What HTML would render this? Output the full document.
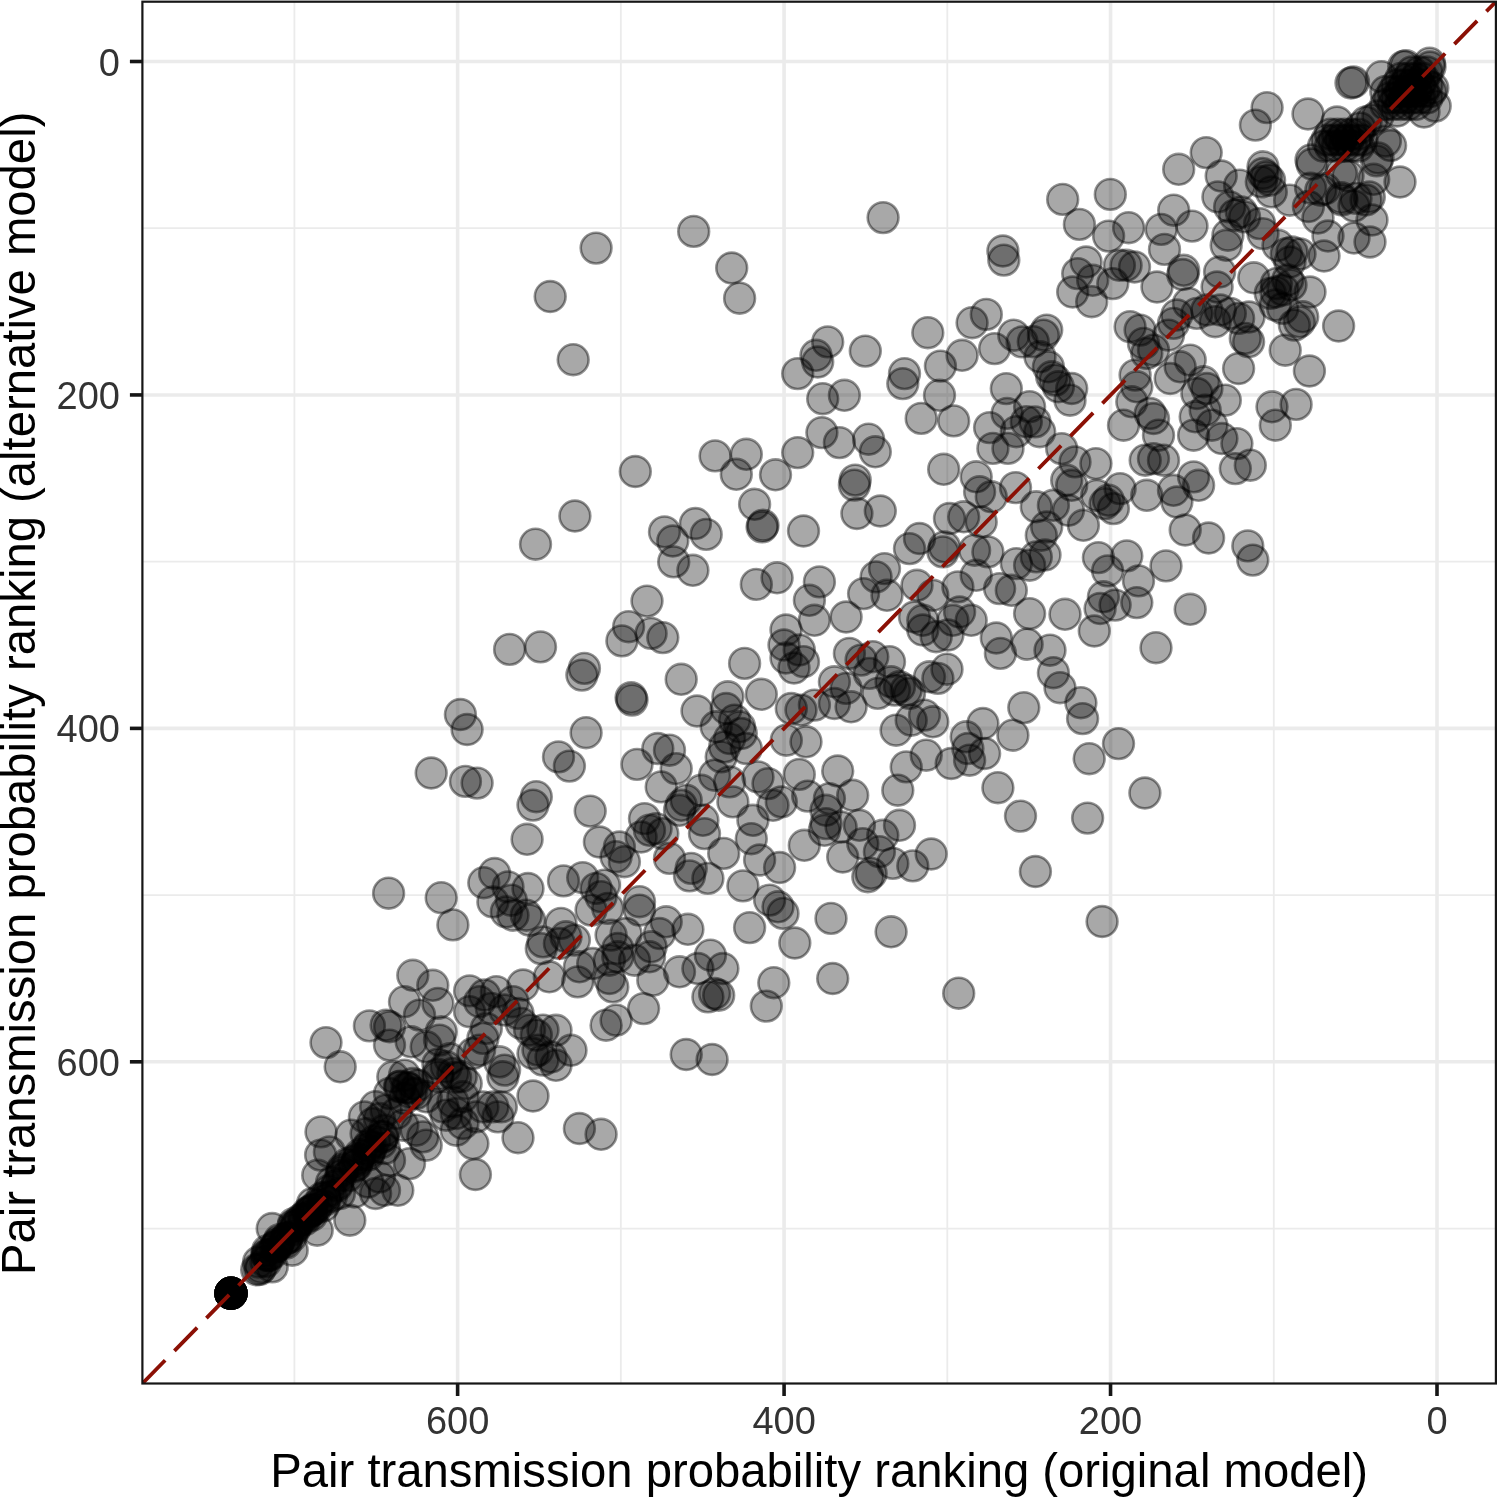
<!DOCTYPE html>
<html><head><meta charset="utf-8"><style>
html,body{margin:0;padding:0;background:#fff;}
svg{display:block;will-change:transform;}
text{font-family:"Liberation Sans",sans-serif;}
</style></head><body>
<svg width="1498" height="1498" viewBox="0 0 1498 1498">
<rect x="0" y="0" width="1498" height="1498" fill="#fff"/>
<defs><clipPath id="pc"><rect x="142.4" y="1.7" width="1353.5" height="1381.8"/></clipPath></defs>
<g><line x1="1273.77" y1="1.7" x2="1273.77" y2="1383.5" stroke="#EBEBEB" stroke-width="1.8"/><line x1="142.4" y1="228.22" x2="1495.9" y2="228.22" stroke="#EBEBEB" stroke-width="1.8"/><line x1="947.31" y1="1.7" x2="947.31" y2="1383.5" stroke="#EBEBEB" stroke-width="1.8"/><line x1="142.4" y1="561.66" x2="1495.9" y2="561.66" stroke="#EBEBEB" stroke-width="1.8"/><line x1="620.85" y1="1.7" x2="620.85" y2="1383.5" stroke="#EBEBEB" stroke-width="1.8"/><line x1="142.4" y1="895.10" x2="1495.9" y2="895.10" stroke="#EBEBEB" stroke-width="1.8"/><line x1="294.39" y1="1.7" x2="294.39" y2="1383.5" stroke="#EBEBEB" stroke-width="1.8"/><line x1="142.4" y1="1228.54" x2="1495.9" y2="1228.54" stroke="#EBEBEB" stroke-width="1.8"/><line x1="1437.00" y1="1.7" x2="1437.00" y2="1383.5" stroke="#EBEBEB" stroke-width="3.6"/><line x1="142.4" y1="61.50" x2="1495.9" y2="61.50" stroke="#EBEBEB" stroke-width="3.6"/><line x1="1110.54" y1="1.7" x2="1110.54" y2="1383.5" stroke="#EBEBEB" stroke-width="3.6"/><line x1="142.4" y1="394.94" x2="1495.9" y2="394.94" stroke="#EBEBEB" stroke-width="3.6"/><line x1="784.08" y1="1.7" x2="784.08" y2="1383.5" stroke="#EBEBEB" stroke-width="3.6"/><line x1="142.4" y1="728.38" x2="1495.9" y2="728.38" stroke="#EBEBEB" stroke-width="3.6"/><line x1="457.62" y1="1.7" x2="457.62" y2="1383.5" stroke="#EBEBEB" stroke-width="3.6"/><line x1="142.4" y1="1061.82" x2="1495.9" y2="1061.82" stroke="#EBEBEB" stroke-width="3.6"/></g>
<g clip-path="url(#pc)" fill="rgba(0,0,0,0.34)" stroke="rgba(0,0,0,0.42)" stroke-width="2.6">
<circle cx="1412.0" cy="72.0" r="15.4"/>
<circle cx="1419.5" cy="72.0" r="15.4"/>
<circle cx="1427.0" cy="72.0" r="15.4"/>
<circle cx="1400.8" cy="78.5" r="15.4"/>
<circle cx="1408.2" cy="78.5" r="15.4"/>
<circle cx="1415.8" cy="78.5" r="15.4"/>
<circle cx="1423.2" cy="78.5" r="15.4"/>
<circle cx="1397.0" cy="85.0" r="15.4"/>
<circle cx="1404.5" cy="85.0" r="15.4"/>
<circle cx="1412.0" cy="85.0" r="15.4"/>
<circle cx="1419.5" cy="85.0" r="15.4"/>
<circle cx="1427.0" cy="85.0" r="15.4"/>
<circle cx="1385.8" cy="91.5" r="15.4"/>
<circle cx="1393.2" cy="91.5" r="15.4"/>
<circle cx="1400.8" cy="91.5" r="15.4"/>
<circle cx="1408.2" cy="91.5" r="15.4"/>
<circle cx="1415.8" cy="91.5" r="15.4"/>
<circle cx="1423.2" cy="91.5" r="15.4"/>
<circle cx="1430.8" cy="91.5" r="15.4"/>
<circle cx="1389.5" cy="98.0" r="15.4"/>
<circle cx="1397.0" cy="98.0" r="15.4"/>
<circle cx="1404.5" cy="98.0" r="15.4"/>
<circle cx="1412.0" cy="98.0" r="15.4"/>
<circle cx="1419.5" cy="98.0" r="15.4"/>
<circle cx="1427.0" cy="98.0" r="15.4"/>
<circle cx="1385.8" cy="104.5" r="15.4"/>
<circle cx="1393.2" cy="104.5" r="15.4"/>
<circle cx="1400.8" cy="104.5" r="15.4"/>
<circle cx="1408.2" cy="104.5" r="15.4"/>
<circle cx="1415.8" cy="104.5" r="15.4"/>
<circle cx="1397.0" cy="111.0" r="15.4"/>
<circle cx="1429.5" cy="63.2" r="15.4"/>
<circle cx="1406.0" cy="65.8" r="15.4"/>
<circle cx="1403.7" cy="66.4" r="15.4"/>
<circle cx="1381.4" cy="76.7" r="15.4"/>
<circle cx="1430.0" cy="67.0" r="15.4"/>
<circle cx="1432.8" cy="88.0" r="15.4"/>
<circle cx="1435.2" cy="106.1" r="15.4"/>
<circle cx="1424.0" cy="112.0" r="15.4"/>
<circle cx="1351.0" cy="83.0" r="15.4"/>
<circle cx="1353.5" cy="82.0" r="15.4"/>
<circle cx="1308.0" cy="114.0" r="15.4"/>
<circle cx="1337.0" cy="122.0" r="15.4"/>
<circle cx="1330.5" cy="134.1" r="15.4"/>
<circle cx="1337.5" cy="134.1" r="15.4"/>
<circle cx="1344.5" cy="134.1" r="15.4"/>
<circle cx="1351.5" cy="134.1" r="15.4"/>
<circle cx="1358.5" cy="134.1" r="15.4"/>
<circle cx="1327.0" cy="140.1" r="15.4"/>
<circle cx="1334.0" cy="140.1" r="15.4"/>
<circle cx="1341.0" cy="140.1" r="15.4"/>
<circle cx="1348.0" cy="140.1" r="15.4"/>
<circle cx="1355.0" cy="140.1" r="15.4"/>
<circle cx="1362.0" cy="140.1" r="15.4"/>
<circle cx="1323.5" cy="146.2" r="15.4"/>
<circle cx="1330.5" cy="146.2" r="15.4"/>
<circle cx="1337.5" cy="146.2" r="15.4"/>
<circle cx="1344.5" cy="146.2" r="15.4"/>
<circle cx="1351.5" cy="146.2" r="15.4"/>
<circle cx="1358.5" cy="146.2" r="15.4"/>
<circle cx="1311.0" cy="160.0" r="15.4"/>
<circle cx="1312.0" cy="164.0" r="15.4"/>
<circle cx="1373.7" cy="179.3" r="15.4"/>
<circle cx="1400.0" cy="182.0" r="15.4"/>
<circle cx="1385.4" cy="141.1" r="15.4"/>
<circle cx="1390.6" cy="145.5" r="15.4"/>
<circle cx="1376.6" cy="160.9" r="15.4"/>
<circle cx="1378.0" cy="158.0" r="15.4"/>
<circle cx="1341.4" cy="173.4" r="15.4"/>
<circle cx="1348.0" cy="176.0" r="15.4"/>
<circle cx="1310.6" cy="188.1" r="15.4"/>
<circle cx="1320.8" cy="190.3" r="15.4"/>
<circle cx="1325.0" cy="188.8" r="15.4"/>
<circle cx="1341.4" cy="197.6" r="15.4"/>
<circle cx="1356.0" cy="198.4" r="15.4"/>
<circle cx="1369.3" cy="196.9" r="15.4"/>
<circle cx="1308.4" cy="206.5" r="15.4"/>
<circle cx="1366.0" cy="200.0" r="15.4"/>
<circle cx="1354.0" cy="206.0" r="15.4"/>
<circle cx="1342.0" cy="200.0" r="15.4"/>
<circle cx="1318.0" cy="218.0" r="15.4"/>
<circle cx="1372.0" cy="220.0" r="15.4"/>
<circle cx="1370.0" cy="242.0" r="15.4"/>
<circle cx="1354.0" cy="238.0" r="15.4"/>
<circle cx="1328.0" cy="236.0" r="15.4"/>
<circle cx="1324.0" cy="256.0" r="15.4"/>
<circle cx="1300.0" cy="254.0" r="15.4"/>
<circle cx="1310.0" cy="292.0" r="15.4"/>
<circle cx="1267.1" cy="107.6" r="15.4"/>
<circle cx="1255.4" cy="125.1" r="15.4"/>
<circle cx="1206.2" cy="152.6" r="15.4"/>
<circle cx="1178.7" cy="169.3" r="15.4"/>
<circle cx="1221.2" cy="176.0" r="15.4"/>
<circle cx="1263.0" cy="166.8" r="15.4"/>
<circle cx="1266.3" cy="176.8" r="15.4"/>
<circle cx="1261.3" cy="181.8" r="15.4"/>
<circle cx="1269.6" cy="180.2" r="15.4"/>
<circle cx="1263.0" cy="173.5" r="15.4"/>
<circle cx="1239.6" cy="185.2" r="15.4"/>
<circle cx="1217.9" cy="196.9" r="15.4"/>
<circle cx="1289.7" cy="200.2" r="15.4"/>
<circle cx="1271.3" cy="191.9" r="15.4"/>
<circle cx="1229.6" cy="206.9" r="15.4"/>
<circle cx="1241.3" cy="211.9" r="15.4"/>
<circle cx="1234.6" cy="215.2" r="15.4"/>
<circle cx="1244.6" cy="216.9" r="15.4"/>
<circle cx="1259.6" cy="223.6" r="15.4"/>
<circle cx="1263.0" cy="233.6" r="15.4"/>
<circle cx="1227.9" cy="235.2" r="15.4"/>
<circle cx="1226.2" cy="245.3" r="15.4"/>
<circle cx="1062.7" cy="199.4" r="15.4"/>
<circle cx="1110.3" cy="194.4" r="15.4"/>
<circle cx="1079.4" cy="224.4" r="15.4"/>
<circle cx="1108.6" cy="236.1" r="15.4"/>
<circle cx="1128.6" cy="227.7" r="15.4"/>
<circle cx="1161.2" cy="229.4" r="15.4"/>
<circle cx="1173.7" cy="210.2" r="15.4"/>
<circle cx="1192.0" cy="226.1" r="15.4"/>
<circle cx="1164.5" cy="249.4" r="15.4"/>
<circle cx="1086.1" cy="262.0" r="15.4"/>
<circle cx="1077.7" cy="273.6" r="15.4"/>
<circle cx="1092.7" cy="280.3" r="15.4"/>
<circle cx="1072.7" cy="292.0" r="15.4"/>
<circle cx="1119.4" cy="265.3" r="15.4"/>
<circle cx="1126.1" cy="265.3" r="15.4"/>
<circle cx="1134.5" cy="267.0" r="15.4"/>
<circle cx="1112.8" cy="283.6" r="15.4"/>
<circle cx="1183.7" cy="270.3" r="15.4"/>
<circle cx="1182.8" cy="274.5" r="15.4"/>
<circle cx="1157.0" cy="287.0" r="15.4"/>
<circle cx="1219.6" cy="272.0" r="15.4"/>
<circle cx="1217.1" cy="287.0" r="15.4"/>
<circle cx="1253.8" cy="277.8" r="15.4"/>
<circle cx="1276.3" cy="283.6" r="15.4"/>
<circle cx="1286.3" cy="253.6" r="15.4"/>
<circle cx="1278.0" cy="245.3" r="15.4"/>
<circle cx="883.1" cy="217.6" r="15.4"/>
<circle cx="1002.9" cy="251.0" r="15.4"/>
<circle cx="1003.8" cy="260.1" r="15.4"/>
<circle cx="986.3" cy="314.4" r="15.4"/>
<circle cx="972.1" cy="322.7" r="15.4"/>
<circle cx="927.8" cy="332.7" r="15.4"/>
<circle cx="1013.8" cy="335.2" r="15.4"/>
<circle cx="1022.1" cy="341.9" r="15.4"/>
<circle cx="994.6" cy="348.6" r="15.4"/>
<circle cx="962.1" cy="355.3" r="15.4"/>
<circle cx="940.4" cy="366.1" r="15.4"/>
<circle cx="827.7" cy="341.9" r="15.4"/>
<circle cx="816.0" cy="355.3" r="15.4"/>
<circle cx="817.7" cy="362.0" r="15.4"/>
<circle cx="865.3" cy="351.1" r="15.4"/>
<circle cx="797.7" cy="373.6" r="15.4"/>
<circle cx="904.5" cy="373.6" r="15.4"/>
<circle cx="902.8" cy="383.6" r="15.4"/>
<circle cx="939.5" cy="395.3" r="15.4"/>
<circle cx="1006.3" cy="388.6" r="15.4"/>
<circle cx="844.4" cy="395.3" r="15.4"/>
<circle cx="822.7" cy="398.7" r="15.4"/>
<circle cx="1091.7" cy="301.7" r="15.4"/>
<circle cx="1046.7" cy="330.1" r="15.4"/>
<circle cx="1043.4" cy="335.1" r="15.4"/>
<circle cx="1033.3" cy="341.7" r="15.4"/>
<circle cx="1040.0" cy="356.8" r="15.4"/>
<circle cx="1048.4" cy="366.8" r="15.4"/>
<circle cx="1055.0" cy="380.1" r="15.4"/>
<circle cx="1051.7" cy="376.8" r="15.4"/>
<circle cx="1058.4" cy="386.8" r="15.4"/>
<circle cx="1071.7" cy="388.5" r="15.4"/>
<circle cx="1070.0" cy="400.2" r="15.4"/>
<circle cx="1035.0" cy="421.9" r="15.4"/>
<circle cx="1061.7" cy="448.6" r="15.4"/>
<circle cx="1075.0" cy="461.9" r="15.4"/>
<circle cx="1095.9" cy="463.6" r="15.4"/>
<circle cx="1066.7" cy="480.3" r="15.4"/>
<circle cx="1071.7" cy="485.3" r="15.4"/>
<circle cx="1053.4" cy="505.3" r="15.4"/>
<circle cx="1068.4" cy="510.3" r="15.4"/>
<circle cx="1083.4" cy="525.3" r="15.4"/>
<circle cx="1046.7" cy="527.0" r="15.4"/>
<circle cx="1096.8" cy="495.3" r="15.4"/>
<circle cx="1108.4" cy="500.3" r="15.4"/>
<circle cx="1120.1" cy="488.6" r="15.4"/>
<circle cx="1113.4" cy="508.6" r="15.4"/>
<circle cx="1105.1" cy="503.6" r="15.4"/>
<circle cx="1146.8" cy="495.3" r="15.4"/>
<circle cx="1173.5" cy="490.3" r="15.4"/>
<circle cx="1176.9" cy="502.0" r="15.4"/>
<circle cx="1193.6" cy="476.9" r="15.4"/>
<circle cx="1198.6" cy="485.3" r="15.4"/>
<circle cx="1185.2" cy="530.0" r="15.4"/>
<circle cx="1208.6" cy="538.0" r="15.4"/>
<circle cx="1130.1" cy="326.7" r="15.4"/>
<circle cx="1140.1" cy="330.1" r="15.4"/>
<circle cx="1143.5" cy="343.4" r="15.4"/>
<circle cx="1153.5" cy="350.1" r="15.4"/>
<circle cx="1146.8" cy="353.4" r="15.4"/>
<circle cx="1168.5" cy="335.1" r="15.4"/>
<circle cx="1173.5" cy="323.4" r="15.4"/>
<circle cx="1176.9" cy="315.0" r="15.4"/>
<circle cx="1188.5" cy="303.4" r="15.4"/>
<circle cx="1196.9" cy="313.4" r="15.4"/>
<circle cx="1206.9" cy="310.0" r="15.4"/>
<circle cx="1215.2" cy="321.7" r="15.4"/>
<circle cx="1220.3" cy="310.0" r="15.4"/>
<circle cx="1230.3" cy="313.4" r="15.4"/>
<circle cx="1238.6" cy="318.4" r="15.4"/>
<circle cx="1245.3" cy="338.4" r="15.4"/>
<circle cx="1248.6" cy="341.7" r="15.4"/>
<circle cx="1238.6" cy="368.5" r="15.4"/>
<circle cx="1270.3" cy="293.4" r="15.4"/>
<circle cx="1275.3" cy="305.0" r="15.4"/>
<circle cx="1190.2" cy="360.1" r="15.4"/>
<circle cx="1180.2" cy="366.8" r="15.4"/>
<circle cx="1170.2" cy="378.5" r="15.4"/>
<circle cx="1135.1" cy="375.1" r="15.4"/>
<circle cx="1136.8" cy="386.8" r="15.4"/>
<circle cx="1131.8" cy="401.8" r="15.4"/>
<circle cx="1150.2" cy="413.5" r="15.4"/>
<circle cx="1153.5" cy="418.5" r="15.4"/>
<circle cx="1158.5" cy="435.2" r="15.4"/>
<circle cx="1123.5" cy="425.2" r="15.4"/>
<circle cx="1145.2" cy="460.2" r="15.4"/>
<circle cx="1153.5" cy="458.6" r="15.4"/>
<circle cx="1163.5" cy="460.2" r="15.4"/>
<circle cx="1203.6" cy="381.8" r="15.4"/>
<circle cx="1206.9" cy="388.5" r="15.4"/>
<circle cx="1196.9" cy="393.5" r="15.4"/>
<circle cx="1225.3" cy="400.2" r="15.4"/>
<circle cx="1205.2" cy="410.2" r="15.4"/>
<circle cx="1195.2" cy="416.8" r="15.4"/>
<circle cx="1193.6" cy="435.2" r="15.4"/>
<circle cx="1211.9" cy="425.2" r="15.4"/>
<circle cx="1221.9" cy="438.5" r="15.4"/>
<circle cx="1236.9" cy="443.6" r="15.4"/>
<circle cx="1235.3" cy="468.6" r="15.4"/>
<circle cx="1250.3" cy="465.2" r="15.4"/>
<circle cx="1287.7" cy="280.0" r="15.4"/>
<circle cx="1291.0" cy="285.0" r="15.4"/>
<circle cx="1282.7" cy="308.4" r="15.4"/>
<circle cx="1302.7" cy="316.8" r="15.4"/>
<circle cx="1299.4" cy="321.8" r="15.4"/>
<circle cx="1294.4" cy="325.1" r="15.4"/>
<circle cx="1338.6" cy="326.0" r="15.4"/>
<circle cx="1249.0" cy="317.0" r="15.4"/>
<circle cx="1285.2" cy="350.2" r="15.4"/>
<circle cx="1309.4" cy="371.0" r="15.4"/>
<circle cx="1272.0" cy="406.8" r="15.4"/>
<circle cx="1296.1" cy="404.4" r="15.4"/>
<circle cx="1275.3" cy="425.2" r="15.4"/>
<circle cx="1292.0" cy="252.0" r="15.4"/>
<circle cx="1290.0" cy="262.0" r="15.4"/>
<circle cx="1283.0" cy="290.0" r="15.4"/>
<circle cx="1276.0" cy="292.0" r="15.4"/>
<circle cx="821.9" cy="432.6" r="15.4"/>
<circle cx="839.4" cy="442.6" r="15.4"/>
<circle cx="868.6" cy="439.2" r="15.4"/>
<circle cx="875.3" cy="451.8" r="15.4"/>
<circle cx="797.7" cy="452.6" r="15.4"/>
<circle cx="921.2" cy="418.4" r="15.4"/>
<circle cx="953.7" cy="420.9" r="15.4"/>
<circle cx="989.6" cy="427.6" r="15.4"/>
<circle cx="1007.1" cy="413.4" r="15.4"/>
<circle cx="1029.6" cy="406.7" r="15.4"/>
<circle cx="1026.3" cy="421.7" r="15.4"/>
<circle cx="1016.3" cy="431.7" r="15.4"/>
<circle cx="992.9" cy="448.4" r="15.4"/>
<circle cx="1008.0" cy="448.4" r="15.4"/>
<circle cx="1039.7" cy="431.7" r="15.4"/>
<circle cx="943.7" cy="469.3" r="15.4"/>
<circle cx="855.2" cy="480.1" r="15.4"/>
<circle cx="854.4" cy="485.1" r="15.4"/>
<circle cx="976.2" cy="476.8" r="15.4"/>
<circle cx="979.6" cy="491.8" r="15.4"/>
<circle cx="991.3" cy="496.8" r="15.4"/>
<circle cx="1015.5" cy="487.6" r="15.4"/>
<circle cx="1036.3" cy="506.8" r="15.4"/>
<circle cx="856.9" cy="513.5" r="15.4"/>
<circle cx="880.3" cy="511.0" r="15.4"/>
<circle cx="803.5" cy="531.0" r="15.4"/>
<circle cx="949.5" cy="518.5" r="15.4"/>
<circle cx="963.7" cy="516.8" r="15.4"/>
<circle cx="981.2" cy="521.9" r="15.4"/>
<circle cx="919.5" cy="538.5" r="15.4"/>
<circle cx="909.5" cy="548.6" r="15.4"/>
<circle cx="944.5" cy="546.9" r="15.4"/>
<circle cx="942.9" cy="551.9" r="15.4"/>
<circle cx="974.6" cy="550.2" r="15.4"/>
<circle cx="987.9" cy="551.9" r="15.4"/>
<circle cx="1041.3" cy="535.2" r="15.4"/>
<circle cx="1016.3" cy="563.6" r="15.4"/>
<circle cx="1029.6" cy="565.2" r="15.4"/>
<circle cx="1036.3" cy="556.9" r="15.4"/>
<circle cx="976.2" cy="575.3" r="15.4"/>
<circle cx="957.9" cy="586.9" r="15.4"/>
<circle cx="999.6" cy="588.6" r="15.4"/>
<circle cx="1011.3" cy="590.3" r="15.4"/>
<circle cx="1029.6" cy="613.6" r="15.4"/>
<circle cx="884.5" cy="568.6" r="15.4"/>
<circle cx="876.1" cy="576.9" r="15.4"/>
<circle cx="863.6" cy="593.6" r="15.4"/>
<circle cx="887.0" cy="595.3" r="15.4"/>
<circle cx="917.0" cy="585.3" r="15.4"/>
<circle cx="932.8" cy="595.3" r="15.4"/>
<circle cx="819.4" cy="581.9" r="15.4"/>
<circle cx="809.4" cy="600.3" r="15.4"/>
<circle cx="814.4" cy="620.3" r="15.4"/>
<circle cx="846.1" cy="617.0" r="15.4"/>
<circle cx="914.5" cy="617.0" r="15.4"/>
<circle cx="922.8" cy="620.3" r="15.4"/>
<circle cx="959.6" cy="612.0" r="15.4"/>
<circle cx="971.2" cy="620.3" r="15.4"/>
<circle cx="952.9" cy="620.3" r="15.4"/>
<circle cx="996.3" cy="638.0" r="15.4"/>
<circle cx="596.1" cy="248.1" r="15.4"/>
<circle cx="693.7" cy="231.4" r="15.4"/>
<circle cx="731.7" cy="268.0" r="15.4"/>
<circle cx="739.6" cy="298.2" r="15.4"/>
<circle cx="550.2" cy="296.5" r="15.4"/>
<circle cx="573.2" cy="359.7" r="15.4"/>
<circle cx="635.3" cy="471.5" r="15.4"/>
<circle cx="574.9" cy="516.0" r="15.4"/>
<circle cx="715.1" cy="455.9" r="15.4"/>
<circle cx="746.3" cy="454.3" r="15.4"/>
<circle cx="736.3" cy="474.3" r="15.4"/>
<circle cx="775.5" cy="474.8" r="15.4"/>
<circle cx="754.6" cy="504.3" r="15.4"/>
<circle cx="763.0" cy="525.2" r="15.4"/>
<circle cx="762.1" cy="526.9" r="15.4"/>
<circle cx="664.5" cy="531.9" r="15.4"/>
<circle cx="672.8" cy="541.0" r="15.4"/>
<circle cx="695.4" cy="523.5" r="15.4"/>
<circle cx="706.2" cy="534.4" r="15.4"/>
<circle cx="673.7" cy="561.9" r="15.4"/>
<circle cx="692.9" cy="570.3" r="15.4"/>
<circle cx="756.3" cy="584.4" r="15.4"/>
<circle cx="777.1" cy="577.8" r="15.4"/>
<circle cx="647.0" cy="601.1" r="15.4"/>
<circle cx="628.6" cy="626.7" r="15.4"/>
<circle cx="621.9" cy="640.9" r="15.4"/>
<circle cx="651.1" cy="633.4" r="15.4"/>
<circle cx="662.8" cy="637.6" r="15.4"/>
<circle cx="584.4" cy="668.4" r="15.4"/>
<circle cx="581.9" cy="675.1" r="15.4"/>
<circle cx="631.1" cy="697.6" r="15.4"/>
<circle cx="632.0" cy="700.1" r="15.4"/>
<circle cx="681.2" cy="679.3" r="15.4"/>
<circle cx="744.6" cy="663.4" r="15.4"/>
<circle cx="761.3" cy="694.3" r="15.4"/>
<circle cx="727.9" cy="696.8" r="15.4"/>
<circle cx="726.2" cy="708.5" r="15.4"/>
<circle cx="697.0" cy="711.0" r="15.4"/>
<circle cx="716.2" cy="726.8" r="15.4"/>
<circle cx="734.6" cy="720.2" r="15.4"/>
<circle cx="739.6" cy="726.8" r="15.4"/>
<circle cx="741.3" cy="733.5" r="15.4"/>
<circle cx="729.6" cy="738.5" r="15.4"/>
<circle cx="724.6" cy="746.9" r="15.4"/>
<circle cx="721.2" cy="756.9" r="15.4"/>
<circle cx="746.3" cy="748.5" r="15.4"/>
<circle cx="786.0" cy="630.0" r="15.4"/>
<circle cx="784.0" cy="645.0" r="15.4"/>
<circle cx="786.0" cy="658.0" r="15.4"/>
<circle cx="794.0" cy="668.0" r="15.4"/>
<circle cx="791.3" cy="708.5" r="15.4"/>
<circle cx="786.3" cy="740.2" r="15.4"/>
<circle cx="586.1" cy="732.7" r="15.4"/>
<circle cx="558.5" cy="756.9" r="15.4"/>
<circle cx="569.4" cy="766.1" r="15.4"/>
<circle cx="657.8" cy="748.5" r="15.4"/>
<circle cx="669.5" cy="750.2" r="15.4"/>
<circle cx="637.0" cy="764.4" r="15.4"/>
<circle cx="676.2" cy="768.6" r="15.4"/>
<circle cx="661.2" cy="786.9" r="15.4"/>
<circle cx="714.6" cy="775.2" r="15.4"/>
<circle cx="729.6" cy="781.9" r="15.4"/>
<circle cx="701.2" cy="790.3" r="15.4"/>
<circle cx="758.0" cy="776.9" r="15.4"/>
<circle cx="768.0" cy="783.6" r="15.4"/>
<circle cx="732.9" cy="801.9" r="15.4"/>
<circle cx="773.0" cy="805.3" r="15.4"/>
<circle cx="781.3" cy="801.9" r="15.4"/>
<circle cx="752.9" cy="820.3" r="15.4"/>
<circle cx="751.3" cy="838.7" r="15.4"/>
<circle cx="681.2" cy="805.3" r="15.4"/>
<circle cx="679.5" cy="810.3" r="15.4"/>
<circle cx="686.2" cy="800.3" r="15.4"/>
<circle cx="702.9" cy="820.3" r="15.4"/>
<circle cx="704.5" cy="833.6" r="15.4"/>
<circle cx="644.5" cy="818.6" r="15.4"/>
<circle cx="656.1" cy="828.6" r="15.4"/>
<circle cx="649.5" cy="830.3" r="15.4"/>
<circle cx="662.8" cy="833.6" r="15.4"/>
<circle cx="641.1" cy="837.0" r="15.4"/>
<circle cx="619.4" cy="847.0" r="15.4"/>
<circle cx="590.2" cy="811.1" r="15.4"/>
<circle cx="599.4" cy="842.0" r="15.4"/>
<circle cx="1000.4" cy="653.4" r="15.4"/>
<circle cx="1027.1" cy="644.2" r="15.4"/>
<circle cx="922.8" cy="630.0" r="15.4"/>
<circle cx="936.2" cy="636.7" r="15.4"/>
<circle cx="947.9" cy="635.0" r="15.4"/>
<circle cx="849.4" cy="653.4" r="15.4"/>
<circle cx="861.1" cy="660.1" r="15.4"/>
<circle cx="872.8" cy="656.7" r="15.4"/>
<circle cx="889.5" cy="661.7" r="15.4"/>
<circle cx="803.5" cy="661.7" r="15.4"/>
<circle cx="799.3" cy="650.0" r="15.4"/>
<circle cx="834.4" cy="681.8" r="15.4"/>
<circle cx="846.1" cy="688.4" r="15.4"/>
<circle cx="869.4" cy="673.4" r="15.4"/>
<circle cx="877.8" cy="693.4" r="15.4"/>
<circle cx="891.1" cy="681.8" r="15.4"/>
<circle cx="899.5" cy="686.8" r="15.4"/>
<circle cx="906.2" cy="690.1" r="15.4"/>
<circle cx="909.5" cy="693.4" r="15.4"/>
<circle cx="894.5" cy="690.1" r="15.4"/>
<circle cx="929.5" cy="676.8" r="15.4"/>
<circle cx="937.9" cy="678.4" r="15.4"/>
<circle cx="947.0" cy="669.2" r="15.4"/>
<circle cx="814.4" cy="705.1" r="15.4"/>
<circle cx="834.4" cy="703.5" r="15.4"/>
<circle cx="851.1" cy="706.8" r="15.4"/>
<circle cx="801.0" cy="710.1" r="15.4"/>
<circle cx="896.1" cy="730.2" r="15.4"/>
<circle cx="911.2" cy="720.2" r="15.4"/>
<circle cx="924.5" cy="715.1" r="15.4"/>
<circle cx="932.8" cy="721.8" r="15.4"/>
<circle cx="806.0" cy="741.8" r="15.4"/>
<circle cx="982.9" cy="723.5" r="15.4"/>
<circle cx="1023.8" cy="707.6" r="15.4"/>
<circle cx="1012.9" cy="735.2" r="15.4"/>
<circle cx="966.2" cy="736.8" r="15.4"/>
<circle cx="967.9" cy="748.5" r="15.4"/>
<circle cx="984.6" cy="753.5" r="15.4"/>
<circle cx="969.6" cy="760.2" r="15.4"/>
<circle cx="951.2" cy="763.5" r="15.4"/>
<circle cx="926.2" cy="755.2" r="15.4"/>
<circle cx="906.2" cy="766.9" r="15.4"/>
<circle cx="897.8" cy="790.2" r="15.4"/>
<circle cx="997.9" cy="787.7" r="15.4"/>
<circle cx="1020.5" cy="816.1" r="15.4"/>
<circle cx="837.7" cy="771.0" r="15.4"/>
<circle cx="799.3" cy="774.4" r="15.4"/>
<circle cx="807.7" cy="796.1" r="15.4"/>
<circle cx="829.4" cy="798.6" r="15.4"/>
<circle cx="852.7" cy="795.3" r="15.4"/>
<circle cx="826.0" cy="810.3" r="15.4"/>
<circle cx="826.0" cy="823.6" r="15.4"/>
<circle cx="824.4" cy="830.3" r="15.4"/>
<circle cx="841.1" cy="827.0" r="15.4"/>
<circle cx="859.4" cy="825.3" r="15.4"/>
<circle cx="882.8" cy="835.3" r="15.4"/>
<circle cx="899.5" cy="825.3" r="15.4"/>
<circle cx="862.8" cy="843.6" r="15.4"/>
<circle cx="804.3" cy="845.3" r="15.4"/>
<circle cx="842.7" cy="857.0" r="15.4"/>
<circle cx="931.2" cy="854.0" r="15.4"/>
<circle cx="1247.8" cy="545.9" r="15.4"/>
<circle cx="1252.8" cy="560.1" r="15.4"/>
<circle cx="1045.0" cy="555.0" r="15.4"/>
<circle cx="1098.4" cy="557.6" r="15.4"/>
<circle cx="1107.6" cy="570.9" r="15.4"/>
<circle cx="1126.8" cy="555.9" r="15.4"/>
<circle cx="1166.0" cy="565.9" r="15.4"/>
<circle cx="1138.5" cy="580.9" r="15.4"/>
<circle cx="1103.4" cy="596.8" r="15.4"/>
<circle cx="1100.1" cy="608.5" r="15.4"/>
<circle cx="1115.1" cy="605.1" r="15.4"/>
<circle cx="1136.8" cy="602.6" r="15.4"/>
<circle cx="1190.2" cy="609.3" r="15.4"/>
<circle cx="1065.0" cy="614.3" r="15.4"/>
<circle cx="1094.3" cy="631.0" r="15.4"/>
<circle cx="1156.0" cy="647.7" r="15.4"/>
<circle cx="1050.0" cy="650.2" r="15.4"/>
<circle cx="1053.4" cy="672.7" r="15.4"/>
<circle cx="1060.0" cy="687.7" r="15.4"/>
<circle cx="1080.9" cy="702.7" r="15.4"/>
<circle cx="1082.6" cy="718.6" r="15.4"/>
<circle cx="1118.5" cy="743.6" r="15.4"/>
<circle cx="1089.2" cy="758.7" r="15.4"/>
<circle cx="1144.9" cy="793.0" r="15.4"/>
<circle cx="1087.6" cy="818.1" r="15.4"/>
<circle cx="1035.4" cy="871.5" r="15.4"/>
<circle cx="1102.1" cy="921.5" r="15.4"/>
<circle cx="867.8" cy="876.7" r="15.4"/>
<circle cx="871.1" cy="873.4" r="15.4"/>
<circle cx="892.8" cy="863.4" r="15.4"/>
<circle cx="912.8" cy="865.9" r="15.4"/>
<circle cx="879.4" cy="851.7" r="15.4"/>
<circle cx="831.0" cy="918.4" r="15.4"/>
<circle cx="891.1" cy="931.8" r="15.4"/>
<circle cx="832.7" cy="978.5" r="15.4"/>
<circle cx="958.7" cy="993.2" r="15.4"/>
<circle cx="624.4" cy="861.7" r="15.4"/>
<circle cx="616.1" cy="856.7" r="15.4"/>
<circle cx="669.5" cy="858.4" r="15.4"/>
<circle cx="691.2" cy="868.4" r="15.4"/>
<circle cx="689.5" cy="875.9" r="15.4"/>
<circle cx="707.9" cy="878.4" r="15.4"/>
<circle cx="723.7" cy="853.4" r="15.4"/>
<circle cx="759.6" cy="860.0" r="15.4"/>
<circle cx="779.6" cy="867.5" r="15.4"/>
<circle cx="742.9" cy="885.9" r="15.4"/>
<circle cx="769.6" cy="900.1" r="15.4"/>
<circle cx="778.0" cy="906.8" r="15.4"/>
<circle cx="783.0" cy="913.4" r="15.4"/>
<circle cx="794.8" cy="943.0" r="15.4"/>
<circle cx="749.6" cy="927.6" r="15.4"/>
<circle cx="563.5" cy="880.9" r="15.4"/>
<circle cx="582.7" cy="877.6" r="15.4"/>
<circle cx="596.1" cy="888.4" r="15.4"/>
<circle cx="604.4" cy="885.1" r="15.4"/>
<circle cx="601.1" cy="896.7" r="15.4"/>
<circle cx="591.1" cy="910.1" r="15.4"/>
<circle cx="607.8" cy="908.4" r="15.4"/>
<circle cx="639.5" cy="901.7" r="15.4"/>
<circle cx="639.5" cy="910.1" r="15.4"/>
<circle cx="561.0" cy="923.4" r="15.4"/>
<circle cx="566.0" cy="936.8" r="15.4"/>
<circle cx="559.4" cy="943.5" r="15.4"/>
<circle cx="574.4" cy="940.1" r="15.4"/>
<circle cx="549.3" cy="976.8" r="15.4"/>
<circle cx="611.1" cy="935.1" r="15.4"/>
<circle cx="626.1" cy="933.5" r="15.4"/>
<circle cx="617.8" cy="948.5" r="15.4"/>
<circle cx="617.8" cy="956.8" r="15.4"/>
<circle cx="609.4" cy="960.2" r="15.4"/>
<circle cx="666.2" cy="921.8" r="15.4"/>
<circle cx="659.5" cy="933.5" r="15.4"/>
<circle cx="687.9" cy="929.3" r="15.4"/>
<circle cx="651.1" cy="946.8" r="15.4"/>
<circle cx="649.5" cy="956.8" r="15.4"/>
<circle cx="634.5" cy="960.2" r="15.4"/>
<circle cx="592.7" cy="963.5" r="15.4"/>
<circle cx="579.4" cy="966.8" r="15.4"/>
<circle cx="577.7" cy="981.9" r="15.4"/>
<circle cx="612.8" cy="986.9" r="15.4"/>
<circle cx="609.4" cy="978.5" r="15.4"/>
<circle cx="652.8" cy="980.2" r="15.4"/>
<circle cx="679.5" cy="971.8" r="15.4"/>
<circle cx="697.9" cy="968.5" r="15.4"/>
<circle cx="710.4" cy="955.2" r="15.4"/>
<circle cx="722.9" cy="968.5" r="15.4"/>
<circle cx="707.9" cy="996.9" r="15.4"/>
<circle cx="718.7" cy="995.2" r="15.4"/>
<circle cx="714.6" cy="993.5" r="15.4"/>
<circle cx="773.8" cy="982.7" r="15.4"/>
<circle cx="766.3" cy="1006.1" r="15.4"/>
<circle cx="643.6" cy="1008.6" r="15.4"/>
<circle cx="606.1" cy="1025.2" r="15.4"/>
<circle cx="616.1" cy="1020.2" r="15.4"/>
<circle cx="556.0" cy="1030.3" r="15.4"/>
<circle cx="571.0" cy="1050.3" r="15.4"/>
<circle cx="556.0" cy="1065.3" r="15.4"/>
<circle cx="551.0" cy="1057.0" r="15.4"/>
<circle cx="686.2" cy="1054.5" r="15.4"/>
<circle cx="712.1" cy="1059.5" r="15.4"/>
<circle cx="535.5" cy="544.2" r="15.4"/>
<circle cx="509.6" cy="649.4" r="15.4"/>
<circle cx="540.5" cy="646.9" r="15.4"/>
<circle cx="460.4" cy="714.5" r="15.4"/>
<circle cx="467.1" cy="729.5" r="15.4"/>
<circle cx="431.2" cy="773.0" r="15.4"/>
<circle cx="465.4" cy="781.4" r="15.4"/>
<circle cx="477.1" cy="783.1" r="15.4"/>
<circle cx="536.3" cy="796.7" r="15.4"/>
<circle cx="533.0" cy="805.1" r="15.4"/>
<circle cx="527.1" cy="839.3" r="15.4"/>
<circle cx="388.6" cy="893.2" r="15.4"/>
<circle cx="441.2" cy="897.7" r="15.4"/>
<circle cx="452.9" cy="924.9" r="15.4"/>
<circle cx="494.6" cy="873.5" r="15.4"/>
<circle cx="483.8" cy="882.7" r="15.4"/>
<circle cx="508.0" cy="886.9" r="15.4"/>
<circle cx="528.0" cy="888.5" r="15.4"/>
<circle cx="492.9" cy="901.9" r="15.4"/>
<circle cx="511.3" cy="900.2" r="15.4"/>
<circle cx="513.0" cy="915.2" r="15.4"/>
<circle cx="526.3" cy="915.2" r="15.4"/>
<circle cx="529.6" cy="920.2" r="15.4"/>
<circle cx="506.3" cy="911.9" r="15.4"/>
<circle cx="541.3" cy="948.6" r="15.4"/>
<circle cx="543.0" cy="941.9" r="15.4"/>
<circle cx="412.8" cy="975.3" r="15.4"/>
<circle cx="432.8" cy="985.3" r="15.4"/>
<circle cx="469.6" cy="990.9" r="15.4"/>
<circle cx="523.0" cy="985.0" r="15.4"/>
<circle cx="496.3" cy="991.7" r="15.4"/>
<circle cx="484.6" cy="995.0" r="15.4"/>
<circle cx="479.6" cy="1001.7" r="15.4"/>
<circle cx="469.6" cy="1011.7" r="15.4"/>
<circle cx="491.3" cy="1008.4" r="15.4"/>
<circle cx="504.6" cy="1010.0" r="15.4"/>
<circle cx="518.0" cy="1013.4" r="15.4"/>
<circle cx="513.0" cy="1001.7" r="15.4"/>
<circle cx="521.3" cy="1023.4" r="15.4"/>
<circle cx="529.6" cy="1030.1" r="15.4"/>
<circle cx="543.0" cy="1030.1" r="15.4"/>
<circle cx="486.3" cy="1028.4" r="15.4"/>
<circle cx="482.9" cy="1038.4" r="15.4"/>
<circle cx="479.6" cy="1050.1" r="15.4"/>
<circle cx="472.9" cy="1053.5" r="15.4"/>
<circle cx="499.6" cy="1061.8" r="15.4"/>
<circle cx="504.6" cy="1070.1" r="15.4"/>
<circle cx="502.9" cy="1076.8" r="15.4"/>
<circle cx="536.3" cy="1035.1" r="15.4"/>
<circle cx="538.0" cy="1050.1" r="15.4"/>
<circle cx="533.0" cy="1053.5" r="15.4"/>
<circle cx="543.0" cy="1060.1" r="15.4"/>
<circle cx="533.0" cy="1096.0" r="15.4"/>
<circle cx="518.0" cy="1137.7" r="15.4"/>
<circle cx="475.4" cy="1174.5" r="15.4"/>
<circle cx="472.9" cy="1143.6" r="15.4"/>
<circle cx="492.9" cy="1106.9" r="15.4"/>
<circle cx="501.3" cy="1106.9" r="15.4"/>
<circle cx="497.9" cy="1116.9" r="15.4"/>
<circle cx="482.9" cy="1106.9" r="15.4"/>
<circle cx="476.2" cy="1116.9" r="15.4"/>
<circle cx="466.2" cy="1083.5" r="15.4"/>
<circle cx="461.2" cy="1076.8" r="15.4"/>
<circle cx="462.9" cy="1096.8" r="15.4"/>
<circle cx="452.9" cy="1101.9" r="15.4"/>
<circle cx="456.2" cy="1113.5" r="15.4"/>
<circle cx="462.9" cy="1123.5" r="15.4"/>
<circle cx="456.2" cy="1130.2" r="15.4"/>
<circle cx="446.2" cy="1115.2" r="15.4"/>
<circle cx="442.9" cy="1106.9" r="15.4"/>
<circle cx="446.2" cy="1066.8" r="15.4"/>
<circle cx="437.9" cy="1076.8" r="15.4"/>
<circle cx="452.9" cy="1073.5" r="15.4"/>
<circle cx="404.5" cy="1001.7" r="15.4"/>
<circle cx="419.5" cy="1015.1" r="15.4"/>
<circle cx="437.9" cy="1003.4" r="15.4"/>
<circle cx="441.2" cy="1031.8" r="15.4"/>
<circle cx="439.5" cy="1040.1" r="15.4"/>
<circle cx="369.4" cy="1025.9" r="15.4"/>
<circle cx="386.1" cy="1025.1" r="15.4"/>
<circle cx="389.5" cy="1026.8" r="15.4"/>
<circle cx="389.5" cy="1045.1" r="15.4"/>
<circle cx="411.2" cy="1041.8" r="15.4"/>
<circle cx="426.2" cy="1046.8" r="15.4"/>
<circle cx="326.0" cy="1042.6" r="15.4"/>
<circle cx="340.2" cy="1066.8" r="15.4"/>
<circle cx="392.8" cy="1076.8" r="15.4"/>
<circle cx="404.5" cy="1075.2" r="15.4"/>
<circle cx="412.8" cy="1083.5" r="15.4"/>
<circle cx="399.5" cy="1086.8" r="15.4"/>
<circle cx="389.5" cy="1093.5" r="15.4"/>
<circle cx="416.2" cy="1093.5" r="15.4"/>
<circle cx="426.2" cy="1096.8" r="15.4"/>
<circle cx="404.5" cy="1098.5" r="15.4"/>
<circle cx="386.1" cy="1110.2" r="15.4"/>
<circle cx="396.1" cy="1113.5" r="15.4"/>
<circle cx="379.4" cy="1118.5" r="15.4"/>
<circle cx="364.4" cy="1116.9" r="15.4"/>
<circle cx="372.8" cy="1123.5" r="15.4"/>
<circle cx="402.8" cy="1125.2" r="15.4"/>
<circle cx="416.2" cy="1130.2" r="15.4"/>
<circle cx="422.8" cy="1136.9" r="15.4"/>
<circle cx="426.2" cy="1145.2" r="15.4"/>
<circle cx="409.5" cy="1163.6" r="15.4"/>
<circle cx="397.8" cy="1190.3" r="15.4"/>
<circle cx="321.0" cy="1131.9" r="15.4"/>
<circle cx="329.4" cy="1151.9" r="15.4"/>
<circle cx="317.7" cy="1175.3" r="15.4"/>
<circle cx="351.1" cy="1135.2" r="15.4"/>
<circle cx="366.1" cy="1133.6" r="15.4"/>
<circle cx="384.5" cy="1148.6" r="15.4"/>
<circle cx="389.5" cy="1160.3" r="15.4"/>
<circle cx="379.4" cy="1177.0" r="15.4"/>
<circle cx="367.8" cy="1182.0" r="15.4"/>
<circle cx="384.5" cy="1190.3" r="15.4"/>
<circle cx="354.4" cy="1192.0" r="15.4"/>
<circle cx="339.4" cy="1193.6" r="15.4"/>
<circle cx="349.8" cy="1220.2" r="15.4"/>
<circle cx="272.2" cy="1228.5" r="15.4"/>
<circle cx="272.2" cy="1266.9" r="15.4"/>
<circle cx="292.2" cy="1250.2" r="15.4"/>
<circle cx="317.2" cy="1230.2" r="15.4"/>
<circle cx="320.6" cy="1155.1" r="15.4"/>
<circle cx="375.6" cy="1106.7" r="15.4"/>
<circle cx="375.6" cy="1193.5" r="15.4"/>
<circle cx="231.0" cy="1293.3" r="15.4"/>
<circle cx="231.0" cy="1293.3" r="15.4"/>
<circle cx="231.0" cy="1293.3" r="15.4"/>
<circle cx="231.0" cy="1293.3" r="15.4"/>
<circle cx="231.0" cy="1293.3" r="15.4"/>
<circle cx="231.0" cy="1293.3" r="15.4"/>
<circle cx="231.0" cy="1293.3" r="15.4"/>
<circle cx="231.0" cy="1293.3" r="15.4"/>
<circle cx="231.0" cy="1293.3" r="15.4"/>
<circle cx="231.0" cy="1293.3" r="15.4"/>
<circle cx="231.0" cy="1293.3" r="15.4"/>
<circle cx="231.0" cy="1293.3" r="15.4"/>
<circle cx="256.7" cy="1269.7" r="15.4"/>
<circle cx="259.6" cy="1269.5" r="15.4"/>
<circle cx="261.0" cy="1267.5" r="15.4"/>
<circle cx="258.6" cy="1262.0" r="15.4"/>
<circle cx="265.9" cy="1261.6" r="15.4"/>
<circle cx="267.4" cy="1255.5" r="15.4"/>
<circle cx="266.6" cy="1254.7" r="15.4"/>
<circle cx="268.9" cy="1255.5" r="15.4"/>
<circle cx="267.5" cy="1250.8" r="15.4"/>
<circle cx="270.9" cy="1254.5" r="15.4"/>
<circle cx="275.6" cy="1246.6" r="15.4"/>
<circle cx="277.6" cy="1244.6" r="15.4"/>
<circle cx="278.3" cy="1242.7" r="15.4"/>
<circle cx="276.4" cy="1246.8" r="15.4"/>
<circle cx="279.5" cy="1239.7" r="15.4"/>
<circle cx="285.9" cy="1243.2" r="15.4"/>
<circle cx="283.5" cy="1242.0" r="15.4"/>
<circle cx="286.8" cy="1237.9" r="15.4"/>
<circle cx="286.6" cy="1238.2" r="15.4"/>
<circle cx="291.3" cy="1236.6" r="15.4"/>
<circle cx="294.4" cy="1229.4" r="15.4"/>
<circle cx="293.0" cy="1226.5" r="15.4"/>
<circle cx="293.5" cy="1223.8" r="15.4"/>
<circle cx="296.2" cy="1226.3" r="15.4"/>
<circle cx="296.2" cy="1225.0" r="15.4"/>
<circle cx="300.0" cy="1220.3" r="15.4"/>
<circle cx="304.7" cy="1219.8" r="15.4"/>
<circle cx="303.5" cy="1218.0" r="15.4"/>
<circle cx="307.6" cy="1212.7" r="15.4"/>
<circle cx="311.1" cy="1210.6" r="15.4"/>
<circle cx="311.5" cy="1215.4" r="15.4"/>
<circle cx="308.9" cy="1213.1" r="15.4"/>
<circle cx="312.8" cy="1209.5" r="15.4"/>
<circle cx="312.5" cy="1203.5" r="15.4"/>
<circle cx="315.3" cy="1208.9" r="15.4"/>
<circle cx="317.2" cy="1205.4" r="15.4"/>
<circle cx="323.4" cy="1206.0" r="15.4"/>
<circle cx="322.1" cy="1197.9" r="15.4"/>
<circle cx="325.3" cy="1199.8" r="15.4"/>
<circle cx="325.0" cy="1197.3" r="15.4"/>
<circle cx="331.4" cy="1196.2" r="15.4"/>
<circle cx="329.0" cy="1190.8" r="15.4"/>
<circle cx="331.5" cy="1182.5" r="15.4"/>
<circle cx="336.9" cy="1186.0" r="15.4"/>
<circle cx="337.4" cy="1183.8" r="15.4"/>
<circle cx="340.9" cy="1175.5" r="15.4"/>
<circle cx="341.7" cy="1171.9" r="15.4"/>
<circle cx="342.5" cy="1169.3" r="15.4"/>
<circle cx="348.3" cy="1175.6" r="15.4"/>
<circle cx="347.4" cy="1163.8" r="15.4"/>
<circle cx="354.5" cy="1166.4" r="15.4"/>
<circle cx="353.2" cy="1161.2" r="15.4"/>
<circle cx="356.6" cy="1164.9" r="15.4"/>
<circle cx="357.9" cy="1158.6" r="15.4"/>
<circle cx="357.7" cy="1161.3" r="15.4"/>
<circle cx="359.8" cy="1154.8" r="15.4"/>
<circle cx="366.8" cy="1148.9" r="15.4"/>
<circle cx="368.4" cy="1154.9" r="15.4"/>
<circle cx="370.0" cy="1151.0" r="15.4"/>
<circle cx="369.0" cy="1145.2" r="15.4"/>
<circle cx="371.5" cy="1147.1" r="15.4"/>
<circle cx="374.6" cy="1140.9" r="15.4"/>
<circle cx="381.0" cy="1142.7" r="15.4"/>
<circle cx="383.1" cy="1136.4" r="15.4"/>
<circle cx="382.3" cy="1136.9" r="15.4"/>
<circle cx="384.5" cy="1130.3" r="15.4"/>
<circle cx="579.4" cy="1128.5" r="15.4"/>
<circle cx="601.1" cy="1134.3" r="15.4"/>
<circle cx="406.9" cy="1087.4" r="15.4"/>
<circle cx="418.2" cy="1085.2" r="15.4"/>
<circle cx="408.2" cy="1088.1" r="15.4"/>
<circle cx="400.4" cy="1086.3" r="15.4"/>
<circle cx="411.1" cy="1093.0" r="15.4"/>
<circle cx="437.9" cy="1064.1" r="15.4"/>
<circle cx="437.8" cy="1074.2" r="15.4"/>
<circle cx="449.9" cy="1058.8" r="15.4"/>
<circle cx="455.6" cy="1077.3" r="15.4"/>
<circle cx="1372.0" cy="120.0" r="15.4"/>
<circle cx="1378.0" cy="116.0" r="15.4"/>
<circle cx="1366.0" cy="122.0" r="15.4"/>
<circle cx="1360.0" cy="128.0" r="15.4"/>
</g>
<line x1="142.4" y1="1383.5" x2="1495.9" y2="1.7" stroke="#8B1005" stroke-width="3.8" stroke-dasharray="32.5 13.23" clip-path="url(#pc)"/>
<rect x="142.4" y="1.7" width="1353.5" height="1381.8" fill="none" stroke="#161616" stroke-width="2.2"/>
<g><line x1="1437.00" y1="1383.5" x2="1437.00" y2="1396.0" stroke="#161616" stroke-width="3.6"/><line x1="129.9" y1="61.50" x2="142.4" y2="61.50" stroke="#161616" stroke-width="3.6"/><line x1="1110.54" y1="1383.5" x2="1110.54" y2="1396.0" stroke="#161616" stroke-width="3.6"/><line x1="129.9" y1="394.94" x2="142.4" y2="394.94" stroke="#161616" stroke-width="3.6"/><line x1="784.08" y1="1383.5" x2="784.08" y2="1396.0" stroke="#161616" stroke-width="3.6"/><line x1="129.9" y1="728.38" x2="142.4" y2="728.38" stroke="#161616" stroke-width="3.6"/><line x1="457.62" y1="1383.5" x2="457.62" y2="1396.0" stroke="#161616" stroke-width="3.6"/><line x1="129.9" y1="1061.82" x2="142.4" y2="1061.82" stroke="#161616" stroke-width="3.6"/></g>
<g fill="#333333" font-size="38" style="opacity:0.999"><text x="1437.00" y="1433.5" text-anchor="middle">0</text><text x="120" y="75.50" text-anchor="end">0</text><text x="1110.54" y="1433.5" text-anchor="middle">200</text><text x="120" y="408.94" text-anchor="end">200</text><text x="784.08" y="1433.5" text-anchor="middle">400</text><text x="120" y="742.38" text-anchor="end">400</text><text x="457.62" y="1433.5" text-anchor="middle">600</text><text x="120" y="1075.82" text-anchor="end">600</text></g>
<text x="819.1" y="1487" text-anchor="middle" font-size="47.25" fill="#000" style="opacity:0.999">Pair transmission probability ranking (original model)</text>
<text transform="translate(35,693.3) rotate(-90)" x="0" y="0" text-anchor="middle" font-size="47.25" fill="#000" style="opacity:0.999">Pair transmission probability ranking (alternative model)</text>
</svg>
</body></html>
